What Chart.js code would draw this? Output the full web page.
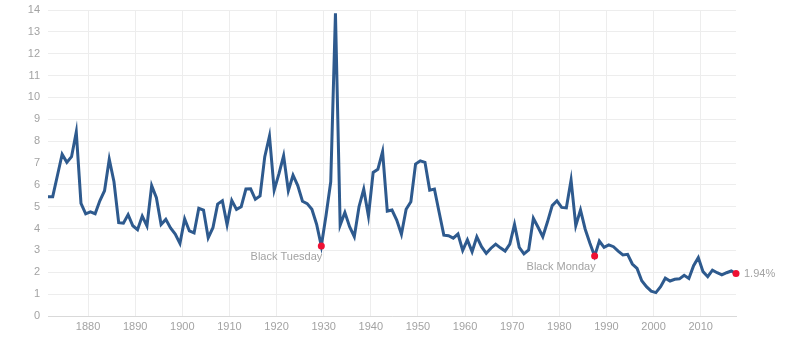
<!DOCTYPE html>
<html>
<head>
<meta charset="utf-8">
<script src="https://cdn.jsdelivr.net/npm/chart.js@4"></script>
<style>
  html, body { margin: 0; padding: 0; background: #fff; }
  #wrap { width: 786px; height: 338px; }
</style>
</head>
<body>
<div id="wrap"><canvas id="yieldChart" width="786" height="338"></canvas></div>
<script>
/* S&P 500 dividend yield, one value per year, 1871 - 2017 */
const firstYear = 1871;
const yieldValues = [
  5.46, 5.46, 6.43, 7.40, 7.03, 7.29, 8.42, 5.15, 4.67,             // 1871-1879
  4.76, 4.68, 5.27, 5.73, 7.17, 6.14, 4.27, 4.25, 4.64, 4.13,       // 1880s
  3.95, 4.57, 4.12, 5.96, 5.41, 4.19, 4.42, 4.03, 3.75, 3.32,       // 1890s
  4.44, 3.89, 3.80, 4.93, 4.85, 3.58, 4.04, 5.12, 5.27, 4.18,       // 1900s
  5.29, 4.88, 5.00, 5.81, 5.82, 5.34, 5.49, 7.29, 8.23, 5.76,       // 1910s
  6.50, 7.33, 5.73, 6.44, 5.97, 5.25, 5.14, 4.88, 4.20, 3.20,       // 1920s
  4.60, 6.14, 13.85, 4.16, 4.74, 4.09, 3.63, 5.00, 5.80, 4.57,      // 1930s
  6.57, 6.71, 7.52, 4.80, 4.85, 4.39, 3.74, 4.88, 5.23, 6.95,       // 1940s
  7.10, 7.03, 5.76, 5.81, 4.75, 3.70, 3.67, 3.56, 3.75, 3.00,       // 1950s
  3.48, 2.94, 3.62, 3.17, 2.87, 3.10, 3.29, 3.12, 2.97, 3.29,       // 1960s
  4.19, 3.14, 2.84, 3.02, 4.47, 4.06, 3.63, 4.31, 5.05, 5.27,       // 1970s
  4.97, 4.95, 6.22, 4.13, 4.85, 3.97, 3.33, 2.74, 3.43, 3.14,       // 1980s
  3.25, 3.17, 2.97, 2.79, 2.82, 2.38, 2.18, 1.61, 1.34, 1.14,       // 1990s
  1.07, 1.34, 1.73, 1.60, 1.68, 1.70, 1.86, 1.72, 2.30, 2.67,       // 2000s
  2.03, 1.80, 2.10, 1.98, 1.88, 1.98, 2.06, 1.94                    // 2010-2017
];
const years = yieldValues.map((v, i) => firstYear + i);

/* highlighted crashes */
const eventYears = [1929, 1987];
const eventNames = ['Black Tuesday', 'Black Monday'];

const yTicks = [0, 1, 2, 3, 4, 5, 6, 7, 8, 9, 10, 11, 12, 13, 14];
const xTicks = [1880, 1890, 1900, 1910, 1920, 1930, 1940, 1950, 1960, 1970, 1980, 1990, 2000, 2010];

const lastIndex = yieldValues.length - 1;
const markIndexes = eventYears.map(y => years.indexOf(y)).concat([lastIndex]);

// annual values plotted at mid year
const points = years.map((y, i) => ({ x: y + 0.5, y: yieldValues[i] }));

const labelFont = '11px "Liberation Sans", Arial, sans-serif';
const labelColor = '#a3a3a3';

/* texts next to the red dots */
const eventLabels = {
    id: 'eventLabels',
    afterDatasetsDraw(chart) {
        const ctx = chart.ctx;
        const xs = chart.scales.x;
        const ys = chart.scales.y;
        ctx.save();
        ctx.font = labelFont;
        ctx.fillStyle = labelColor;
        eventYears.forEach((yr, k) => {
            const i = years.indexOf(yr);
            const px = xs.getPixelForValue(points[i].x);
            const py = ys.getPixelForValue(points[i].y);
            ctx.textAlign = 'right';
            ctx.textBaseline = 'middle';
            ctx.fillText(eventNames[k], px + 1, py + 11);
        });
        const lx = xs.getPixelForValue(points[lastIndex].x);
        const ly = ys.getPixelForValue(points[lastIndex].y);
        ctx.textAlign = 'left';
        ctx.textBaseline = 'middle';
        ctx.fillText(yieldValues[lastIndex].toFixed(2) + '%', lx + 8, ly);
        ctx.restore();
    }
};

const ctx = document.getElementById('yieldChart');
new Chart(ctx, {
    type: 'line',
    data: {
        datasets: [{
            data: points,
            borderColor: '#2e5a8e',
            borderWidth: 3,
            tension: 0,
            fill: false,
            clip: false,
            pointRadius: c => markIndexes.includes(c.dataIndex) ? 3.5 : 0,
            pointHoverRadius: 0,
            pointBorderWidth: 0,
            pointBackgroundColor: '#ee1133',
            pointBorderColor: '#ee1133'
        }]
    },
    options: {
        responsive: false,
        animation: false,
        events: [],
        layout: { padding: { left: 0, top: 10, right: 50, bottom: 0 } },
        plugins: { legend: { display: false }, tooltip: { enabled: false } },
        scales: {
            x: {
                type: 'linear',
                min: firstYear + 0.5,
                max: years[lastIndex] + 0.5,
                afterFit: s => { s.height = 22; s.paddingLeft = 0; s.paddingRight = 0; },
                afterBuildTicks: s => { s.ticks = xTicks.map(v => ({ value: v })); },
                ticks: { font: { size: 11, family: '"Liberation Sans", Arial, sans-serif' }, color: labelColor, padding: 4, maxRotation: 0, callback: v => String(v) },
                grid: { color: '#ededed', lineWidth: 1, drawTicks: false },
                border: { display: true, color: '#d9d9d9', width: 1 }
            },
            y: {
                min: 0,
                max: 14,
                afterFit: s => { s.width = 48; s.paddingTop = 0; s.paddingBottom = 0; },
                afterBuildTicks: s => { s.ticks = yTicks.map(v => ({ value: v })); },
                ticks: { font: { size: 11, family: '"Liberation Sans", Arial, sans-serif' }, color: labelColor, padding: 8 },
                grid: { color: '#ededed', lineWidth: 1, drawTicks: false },
                border: { display: false }
            }
        }
    },
    plugins: [eventLabels]
});
</script>
</body>
</html>
